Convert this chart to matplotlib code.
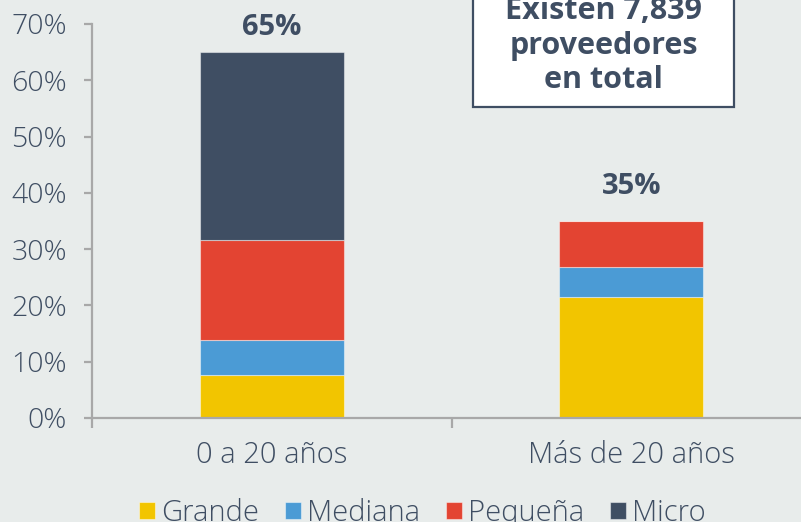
import matplotlib
matplotlib.use("Agg")
import matplotlib.pyplot as plt
import numpy as np
from matplotlib.patches import Rectangle

# ---- data ----
categories = ["0 a 20 años", "Más de 20 años"]
series_names = ["Grande", "Mediana", "Pequeña", "Micro"]
grande = [7.6, 21.5]
mediana = [6.3, 5.3]
pequena = [17.7, 8.2]
micro = [33.4, 0.0]
yticks = [0, 10, 20, 30, 40, 50, 60, 70]
box_lines = ["Existen 7,839", "proveedores", "en total"]

colors = ["#F2C500", "#4B9BD5", "#E34432", "#3F4E63"]
text_color = "#3F4E63"
bg = "#E8ECEB"
grey = "#A8A8A8"

plt.rcParams['font.family'] = ['Open Sans', 'DejaVu Sans']

fig = plt.figure(figsize=(8.01, 5.22), dpi=100, facecolor=bg)
ax = fig.add_axes([92/801, 104/522, (811-92)/801, (418-24)/522])
ax.set_facecolor(bg)

x = np.arange(len(categories))
bottom = np.zeros(len(categories))
handles = []
for name, vals, c in zip(series_names, [grande, mediana, pequena, micro], colors):
    vals = np.array(vals)
    b = ax.bar(x, vals, 0.40, bottom=bottom, color=c, edgecolor=(1, 1, 1, 0.45),
               linewidth=0.8, label=name, zorder=2)
    handles.append(b)
    bottom += vals

totals = bottom
label_offsets = [18, 25]  # points above bar top
for xi, t, off in zip(x, totals, label_offsets):
    ax.annotate(f"{t:.0f}%", (xi, t), xytext=(0, off), textcoords="offset points",
                ha="center", va="center", fontsize=21, fontweight="bold",
                color=text_color)

ax.set_xlim(-0.5, 1.5)
ax.set_ylim(0, 70)
ax.set_yticks(yticks)
ax.set_yticklabels([f"{v}%" for v in yticks])
ax.set_xticks(x)
ax.set_xticklabels(categories)
ax.set_xticks([-0.5, 0.5, 1.5], minor=True)

for s in ["top", "right"]:
    ax.spines[s].set_visible(False)
for s in ["left", "bottom"]:
    ax.spines[s].set_color(grey)
    ax.spines[s].set_linewidth(1.6)

ax.tick_params(axis="y", length=6, width=1.6, color=grey, pad=12,
               labelsize=20.5, labelcolor=text_color)
ax.tick_params(axis="x", which="major", length=0, pad=16,
               labelsize=21, labelcolor=text_color)
ax.tick_params(axis="x", which="minor", length=7, width=1.6, color=grey)
for lab in ax.get_xticklabels() + ax.get_yticklabels():
    lab.set_fontweight("light")

# Text box
rect = Rectangle((473/801, (522-107)/522), (734-473)/801, 0.3,
                 transform=fig.transFigure, facecolor="white",
                 edgecolor=text_color, linewidth=1.6, zorder=5)
fig.patches.append(rect)
baselines_px = [19, 54, 88]
for line, by in zip(box_lines, baselines_px):
    fig.text(603.5/801, 1 - by/522, line, ha="center", va="baseline",
             fontsize=22, fontweight="bold", color=text_color, zorder=6)

leg = fig.legend(handles=handles, labels=series_names, loc="center left",
                 bbox_to_anchor=(139/801, 1 - 513/522), ncol=4, frameon=False,
                 fontsize=21, handlelength=0.55, handleheight=0.55,
                 handletextpad=0.22, columnspacing=0.87, borderpad=0,
                 borderaxespad=0)
for t in leg.get_texts():
    t.set_color(text_color)
    t.set_fontweight("light")

fig.savefig("out.png", dpi=100, facecolor=bg)
